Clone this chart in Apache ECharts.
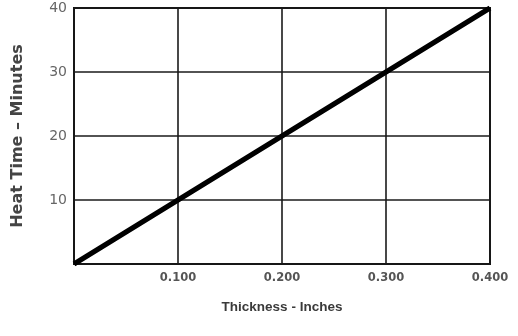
<!DOCTYPE html>
<html><head><meta charset="utf-8">
<script src="https://cdn.jsdelivr.net/npm/echarts@6/dist/echarts.min.js"></script>
<style>html,body{margin:0;padding:0;background:#fff}#c{width:518px;height:336px}</style>
</head><body><div id="c"></div>
<script>
const thickness = [0, 0.1, 0.2, 0.3, 0.4];
const heatTime = [0, 10, 20, 30, 40];
const xTicks = ['', '0.100', '0.200', '0.300', '0.400'];
const yTicks = ['', '10', '20', '30', '40'];

const chart = echarts.init(document.getElementById('c'));
chart.setOption({
  animation: false,
  grid: {left: 74, right: 28, top: 8, bottom: 72, show: true, borderColor: '#111', borderWidth: 2},
  xAxis: {
    type: 'value', min: 0, max: 0.4, interval: 0.1,
    name: 'Thickness - Inches', nameLocation: 'middle', nameGap: 36,
    nameTextStyle: {fontFamily: 'Liberation Sans', fontWeight: 'bold', fontSize: 13.5, color: '#3a3a3a'},
    axisLine: {show: false}, axisTick: {show: false},
    axisLabel: {fontFamily: 'DejaVu Sans', fontWeight: 'bold', fontSize: 11.5, color: '#555', margin: 8,
      formatter: v => xTicks[Math.round(v * 10)]},
    splitLine: {show: true, lineStyle: {color: '#1a1a1a', width: 1.6}}
  },
  yAxis: {
    type: 'value', min: 0, max: 40, interval: 10,
    name: 'Heat Time – Minutes', nameLocation: 'middle', nameGap: 48,
    nameTextStyle: {fontFamily: 'DejaVu Sans', fontWeight: 'bold', fontSize: 16, color: '#444'},
    axisLine: {show: false}, axisTick: {show: false},
    axisLabel: {fontFamily: 'DejaVu Sans', fontSize: 14, color: '#666', margin: 7,
      formatter: v => yTicks[Math.round(v / 10)]},
    splitLine: {show: true, lineStyle: {color: '#1a1a1a', width: 1.6}}
  },
  series: [{
    type: 'line', data: thickness.map((t, i) => [t, heatTime[i]]),
    showSymbol: false, lineStyle: {color: '#000', width: 5}
  }]
});
</script></body></html>
